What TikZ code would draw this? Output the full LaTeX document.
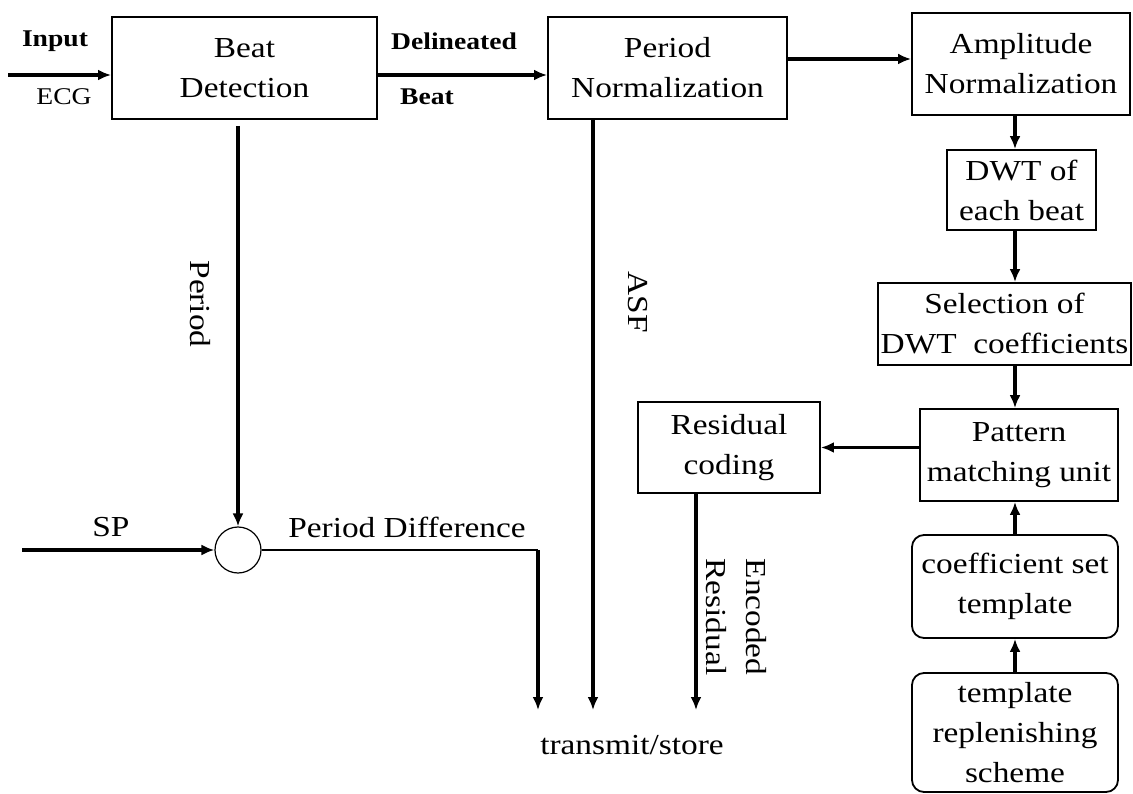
\documentclass[tikz,border=0pt]{standalone}
\usepackage{fontspec}
\setmainfont{Liberation Serif}[FakeStretch=1.15]
\usetikzlibrary{arrows.meta}
\begin{document}
\begin{tikzpicture}[x=1pt,y=-1pt,
  box/.style={draw, line width=1.8pt, align=center, inner sep=0pt, font=\fontsize{29}{40}\selectfont},
  rbox/.style={box, rounded corners=12pt},
  arr/.style={line width=3.2pt, -{Latex[length=13pt,width=11pt]}},
  lbl/.style={font=\fontsize{29}{40}\selectfont, align=center, inner sep=0pt},
  slbl/.style={font=\bfseries\fontsize{24}{28}\selectfont, inner sep=0pt},
  elbl/.style={font=\fontsize{24}{28}\selectfont, inner sep=0pt}
]
\useasboundingbox (0,0) rectangle (1133,794);

% boxes
\node[box, minimum width=265pt, minimum height=102pt] (bd) at (244.5,68) {Beat\\Detection};
\node[box, minimum width=239pt, minimum height=102pt] (pn) at (667.5,68) {Period\\Normalization};
\node[box, minimum width=218pt, minimum height=102pt] (an) at (1021,64) {Amplitude\\Normalization};
\node[box, minimum width=149pt, minimum height=80pt] (dwt) at (1021.5,190) {DWT of\\each beat};
\node[box, minimum width=253pt, minimum height=82pt] (sel) at (1004.5,324) {Selection of\\DWT\ \ coefficients};
\node[box, minimum width=198pt, minimum height=92pt] (pm) at (1019,455) {Pattern\\matching unit};
\node[box, minimum width=182pt, minimum height=91pt] (rc) at (729,447.5) {Residual\\coding};
\node[rbox, minimum width=206pt, minimum height=103pt] (cst) at (1015,586.5) {coefficient set\\template};
\node[rbox, minimum width=206pt, minimum height=119pt] (trs) at (1015,732.5) {template\\replenishing\\scheme};
\node[circle, draw, line width=1.2pt, minimum size=46pt, inner sep=0pt] (sum) at (238,550) {};

% free ends
\coordinate (in) at (8,75);
\coordinate (spin) at (22,550);
\coordinate (pdc) at (538,550);
\coordinate (pdend) at (538,710);
\coordinate (asfend) at (593,710);
\coordinate (resend) at (696,710);
\coordinate (percol) at (238,126);

% labels
\node[slbl] (linput) at (55,41) {Input};
\node[elbl] (lecg) at (64,97) {ECG};
\node[slbl] (ldel) at (454,41) {Delineated};
\node[slbl] (lbeat) at (427,97) {Beat};
\node[lbl, rotate=-90] (lper) at (200,304) {Period};
\node[lbl, rotate=-90] (lasf) at (638,302) {ASF};
\node[lbl] (lsp) at (111,527) {SP};
\node[lbl] (lpd) at (407,527) {Period Difference};
\node[lbl, rotate=-90] (lenc) at (736,617) {Encoded\\Residual};
\node[lbl] (ts) at (632,745) {transmit/store};

% connectors
\draw[arr] (in) -- (in -| bd.west);
\draw[arr] ([yshift=-7pt]bd.east) -- ([yshift=-7pt]pn.west);
\draw[arr] ([yshift=9pt]pn.east) -- ([yshift=5pt]an.west);
\draw[arr] (an.south -| cst.north) -- (dwt.north -| cst.north);
\draw[arr] (dwt.south -| cst.north) -- (sel.north -| cst.north);
\draw[arr] (sel.south -| cst.north) -- (pm.north -| cst.north);
\draw[arr] (cst.north) -- (pm.south -| cst.north);
\draw[arr] (trs.north) -- (cst.south);
\draw[arr] (pm.west |- rc.east) -- (rc.east);
\draw[arr] (percol) -- (sum.north);
\draw[arr] (spin) -- (sum.west);
\draw[line width=2pt] (sum.east) -- (pdc);
\draw[arr] (pdc) -- (pdend);
\draw[arr] (pn.south -| asfend) -- (asfend);
\draw[arr] (rc.south -| resend) -- (resend);
\end{tikzpicture}
\end{document}
